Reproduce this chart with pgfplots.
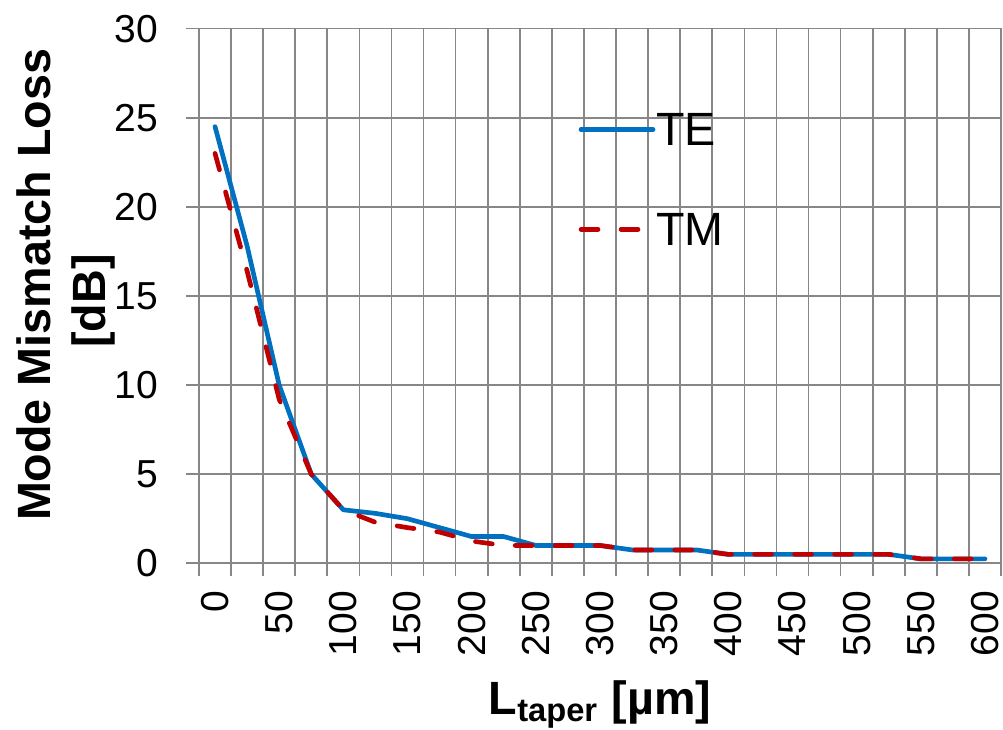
\documentclass[border=0pt]{standalone}
\usepackage{fontspec}
\setmainfont{Liberation Sans}
\usepackage{pgfplots}
\usepackage{pgfplotstable}
\pgfplotsset{compat=1.18}
\definecolor{teblue}{HTML}{0070C0}
\definecolor{tmred}{HTML}{C00000}
\definecolor{gridgray}{HTML}{878787}
\newcommand\tickfont{\fontsize{11.7}{14}\selectfont}
\newcommand\titlefont{\fontsize{14}{16.8}\selectfont\bfseries}

% taper length [um], loss TE / TM [dB]
\pgfplotstableread{
L    TE    TM
0    24.5  23.0
25   17.8  16.4
50   10.0  9.2
75   5.0   5.0
100  3.0   3.0
125  2.8   2.3
150  2.5   2.0
175  2.0   1.75
200  1.5   1.25
225  1.5   1.0
250  1.0   1.0
275  1.0   1.0
300  1.0   1.0
325  0.75  0.75
350  0.75  0.75
375  0.75  0.75
400  0.5   0.5
425  0.5   0.5
450  0.5   0.5
475  0.5   0.5
500  0.5   0.5
525  0.5   0.5
550  0.25  0.25
575  0.25  0.25
600  0.25  0.25
}\losstable

\begin{document}
\begin{tikzpicture}
\begin{axis}[name=ax, scale only axis, width=240.6pt, height=160.4pt,
  xmin=-12.5, xmax=612.5, ymin=0, ymax=30,
  xtick={-12.5,12.5,...,612.5}, xticklabels={},
  extra x ticks={0,50,...,600},
  extra x tick style={grid=none, major tick length=0pt,
    tick label style={yshift=-4.8pt, rotate=90, anchor=east}},
  ytick={0,5,...,30},
  yticklabel style={xshift=-4.8pt},
  grid=major, grid style={draw=gridgray, line width=0.5pt},
  axis line style={draw=gridgray, line width=0.5pt},
  tick style={draw=gridgray, line width=0.5pt},
  tick align=outside, tick pos=left, major tick length=3.9pt,
  tick label style={font=\tickfont},
  /pgf/number format/assume math mode=true,
  clip=false,
  legend cell align=left,
  legend style={at={(0.4726,0.7179)}, anchor=west, draw=none, fill=none,
    inner sep=0pt, row sep=20.3pt, column sep=0.3pt, font=\titlefont\mdseries,
    nodes={inner sep=0pt, text depth=0pt}},
  legend image code/.code={\draw[#1] (0pt,0pt) -- (21.6pt,0pt);},
]
\addplot[teblue, line width=1.4pt, line cap=round, line join=round]
  table[x=L, y=TE]{\losstable};
\addlegendentry{TE}
\addplot[tmred, line width=1.4pt, line cap=round, line join=round,
  dash pattern=on 5.1pt off 6.9pt]
  table[x=L, y=TM]{\losstable};
\addlegendentry{TM}
\node[rotate=90, font=\titlefont] at (rel axis cs:-0.2064,0.5206) {Mode Mismatch Loss};
\node[rotate=90, font=\titlefont] at (rel axis cs:-0.1315,0.4906) {[dB]};
\node[anchor=base, font=\titlefont] at (rel axis cs:0.5,-0.2819) {L\textsubscript{taper} [µm]};
\end{axis}
\pgfresetboundingbox
\path ([shift={(-59.7pt,-50.01pt)}]ax.south west) rectangle ([shift={(241.2pt,168.99pt)}]ax.south west);
\end{tikzpicture}
\end{document}
